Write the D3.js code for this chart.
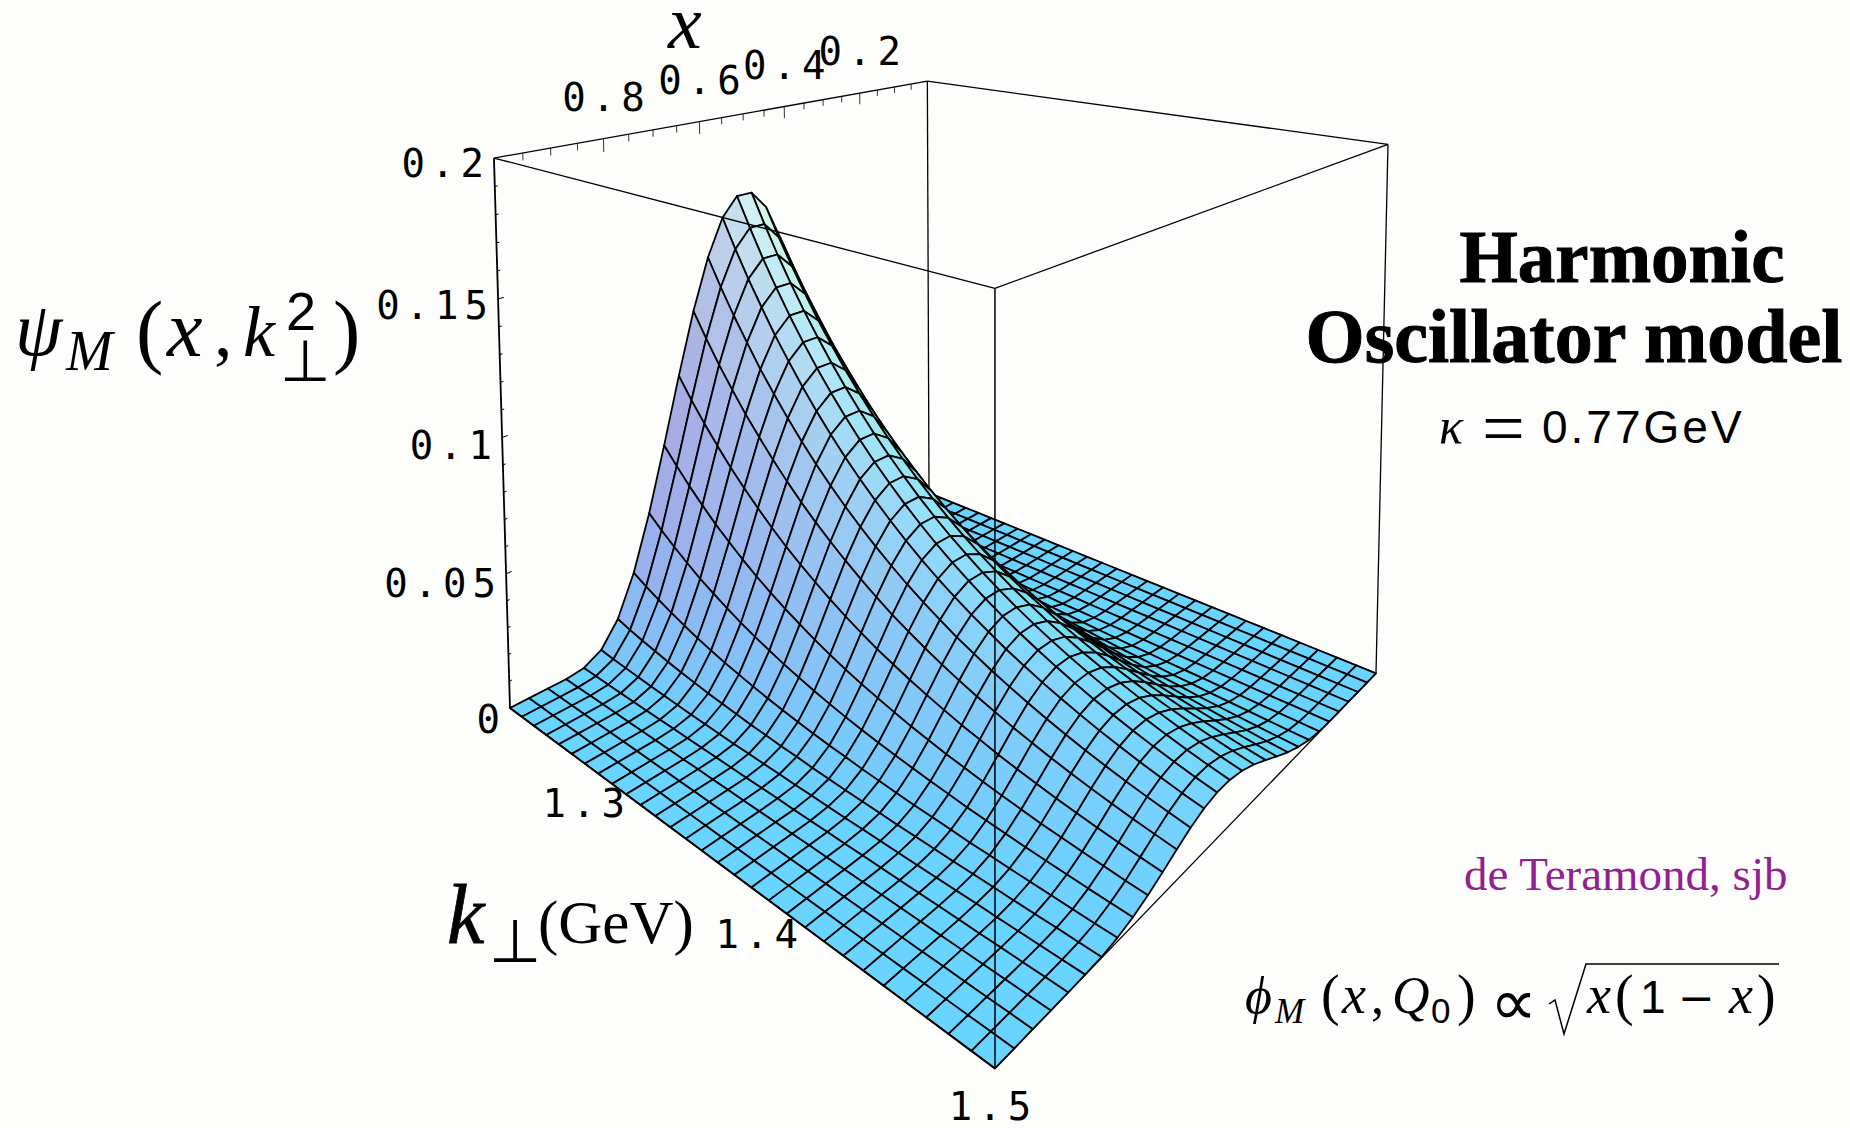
<!DOCTYPE html>
<html>
<head>
<meta charset="utf-8">
<title>Harmonic Oscillator model</title>
<script src="https://cdn.jsdelivr.net/npm/d3@7"></script>
<style>
  html, body { margin: 0; padding: 0; background: #fdfdfb; }
  text { fill: #000; }
  .tick-label { font-family: "DejaVu Sans Mono", monospace; font-size: 39px; letter-spacing: 6px; }
  .serif { font-family: "Liberation Serif", serif; }
  .sans { font-family: "Liberation Sans", sans-serif; }
  .dejavu { font-family: "DejaVu Sans", sans-serif; }
  .ital { font-family: "Liberation Serif", serif; font-style: italic; }
</style>
</head>
<body>
<div id="chart"></div>
<script>
// axis ticks
const xTicks = [0.8, 0.6, 0.4, 0.2];
const zTicks = [0, 0.05, 0.1, 0.15, 0.2];
const kTicks = [1.3, 1.4, 1.5];
const xDomain = [1, 0];
const kDomain = [1.2, 1.5];
const zDomain = [0, 0.2];

// surface heights, in units of 0.0001
// one row per k line (k grows downwards), one column per x line (x = 1 first)
const psiRows = [
  [0,0,0,0,8,44,133,286,496,743,1001,1243,1444,1591,1666,1666,1591,1444,1243,1001,743,496,286,133,44,8,0,0,0,0],
  [0,0,0,0,7,38,118,258,452,682,922,1149,1338,1476,1547,1547,1476,1338,1149,922,682,452,258,118,38,7,0,0,0,0],
  [0,0,0,0,6,34,106,234,412,625,849,1061,1239,1369,1435,1435,1369,1239,1061,849,625,412,234,106,34,6,0,0,0,0],
  [0,0,0,0,5,30,95,211,375,573,782,981,1148,1270,1332,1332,1270,1148,981,782,573,375,211,95,30,5,0,0,0,0],
  [0,0,0,0,4,26,84,190,340,523,718,904,1060,1175,1234,1234,1175,1060,904,718,523,340,190,84,26,4,0,0,0,0],
  [0,0,0,0,4,23,75,171,310,480,661,835,981,1089,1144,1144,1089,981,835,661,480,310,171,75,23,4,0,0,0,0],
  [0,0,0,0,3,20,67,154,282,438,607,769,906,1007,1059,1059,1007,906,769,607,438,282,154,67,20,3,0,0,0,0],
  [0,0,0,0,3,17,59,138,255,400,557,708,836,931,980,980,931,836,708,557,400,255,138,59,17,3,0,0,0,0],
  [0,0,0,0,2,15,53,125,232,365,510,651,771,860,906,906,860,771,651,510,365,232,125,53,15,2,0,0,0,0],
  [0,0,0,0,2,13,47,112,210,333,468,599,711,794,837,837,794,711,599,468,333,210,112,47,13,2,0,0,0,0],
  [0,0,0,0,2,11,41,100,190,304,429,551,655,733,773,773,733,655,551,429,304,190,100,41,11,2,0,0,0,0],
  [0,0,0,0,1,10,37,90,172,276,392,506,603,676,714,714,676,603,506,392,276,172,90,37,10,1,0,0,0,0],
  [0,0,0,0,1,9,32,80,155,251,358,464,555,623,658,658,623,555,464,358,251,155,80,32,9,1,0,0,0,0],
  [0,0,0,0,1,8,29,72,140,228,327,425,510,573,606,606,573,510,425,327,228,140,72,29,8,1,0,0,0,0],
  [0,0,0,0,1,6,25,64,126,207,298,389,468,527,558,558,527,468,389,298,207,126,64,25,6,1,0,0,0,0],
  [0,0,0,0,0,6,22,58,114,189,273,357,430,485,514,514,485,430,357,273,189,114,58,22,6,0,0,0,0,0],
  [0,0,0,0,0,5,19,51,103,171,249,327,395,446,473,473,446,395,327,249,171,103,51,19,5,0,0,0,0,0],
  [0,0,0,0,0,4,17,46,93,155,227,299,362,410,435,435,410,362,299,227,155,93,46,17,4,0,0,0,0,0],
  [0,0,0,0,0,4,15,41,84,141,207,274,333,377,400,400,377,333,274,207,141,84,41,15,4,0,0,0,0,0],
  [0,0,0,0,0,3,13,36,75,127,188,250,304,345,367,367,345,304,250,188,127,75,36,13,3,0,0,0,0,0],
  [0,0,0,0,0,3,12,33,68,116,172,229,279,317,337,337,317,279,229,172,116,68,33,12,3,0,0,0,0,0],
  [0,0,0,0,0,2,10,29,60,104,155,208,255,290,309,309,290,255,208,155,104,60,29,10,2,0,0,0,0,0],
  [0,0,0,0,0,2,9,25,54,94,141,190,233,266,283,283,266,233,190,141,94,54,25,9,2,0,0,0,0,0],
  [0,0,0,0,0,2,8,23,49,85,128,173,213,243,259,259,243,213,173,128,85,49,23,8,2,0,0,0,0,0],
  [0,0,0,0,0,2,7,20,43,76,116,157,194,222,237,237,222,194,157,116,76,43,20,7,2,0,0,0,0,0],
  [0,0,0,0,0,1,6,18,39,69,105,143,177,203,217,217,203,177,143,105,69,39,18,6,1,0,0,0,0,0],
  [0,0,0,0,0,1,5,16,35,62,95,130,161,185,198,198,185,161,130,95,62,35,16,5,1,0,0,0,0,0],
  [0,0,0,0,0,1,5,14,31,56,86,118,147,169,181,181,169,147,118,86,56,31,14,5,1,0,0,0,0,0],
  [0,0,0,0,0,1,4,12,28,50,78,107,134,154,165,165,154,134,107,78,50,28,12,4,1,0,0,0,0,0],
  [0,0,0,0,0,1,3,11,25,45,70,97,122,141,151,151,141,122,97,70,45,25,11,3,1,0,0,0,0,0]
];

const width = 1850;
const height = 1128;

const svg = d3
  .select("#chart")
  .append("svg")
  .attr("width", width)
  .attr("height", height)
  .style("display", "block");

// scales onto the unit box: a runs along the x axis, b along k, c up
const aScale = d3.scaleLinear().domain(xDomain).range([0, 1]);
const bScale = d3.scaleLinear().domain(kDomain).range([0, 1]);
const cScale = d3.scaleLinear().domain(zDomain).range([0, 1]);
const nCols = psiRows[0].length;
const nRows = psiRows.length;
const colScale = d3.scaleLinear().domain([0, nCols - 1]).range(xDomain);
const rowScale = d3.scaleLinear().domain([0, nRows - 1]).range(kDomain);

// perspective camera, fitted to the box in the picture
function depth(a, b, c) {
  return 1 + 0.3411 * a - 0.3004 * b - 0.0319 * c;
}
function project(x, k, z) {
  const a = aScale(x), b = bScale(k), c = cScale(z);
  const w = depth(a, b, c);
  return [
    (510 + 735.9 * a + 186.1 * b - 31.8 * c) / w,
    (708 - 46.8 * a + 39.5 * b - 555 * c) / w
  ];
}

const line = d3.line();

function edge(g, p, q, sw) {
  g.append("path")
    .attr("d", line([project(...p), project(...q)]))
    .attr("fill", "none")
    .attr("stroke", "#000")
    .attr("stroke-width", sw || 1.3);
}

const [x0, x1] = xDomain;
const [k0, k1] = kDomain;
const [z0, z1] = zDomain;

// BACK OF THE BOX //
const back = svg.append("g");
edge(back, [x1, k0, z1], [x1, k0, z0]);
edge(back, [x0, k0, z1], [x1, k0, z1]);
edge(back, [x1, k0, z1], [x1, k1, z1]);
edge(back, [x0, k0, z0], [x1, k0, z0]);
edge(back, [x1, k0, z0], [x1, k1, z0]);

// x ticks hang from the top edge
d3.range(0.05, 0.99, 0.05).forEach((t) => {
  const major = Math.abs(t * 5 - Math.round(t * 5)) < 1e-6;
  edge(back, [t, k0, z1], [t, k0, z1 - (major ? 0.005 : 0.0027)], 0.8);
});

// SURFACE //
const cells = [];
for (let j = 0; j < nRows - 1; j++) {
  for (let i = 0; i < nCols - 1; i++) {
    const h = [psiRows[j][i], psiRows[j][i + 1], psiRows[j + 1][i + 1], psiRows[j + 1][i]].map((v) => v / 10000);
    const corners = [
      [colScale(i), rowScale(j), h[0]],
      [colScale(i + 1), rowScale(j), h[1]],
      [colScale(i + 1), rowScale(j + 1), h[2]],
      [colScale(i), rowScale(j + 1), h[3]]
    ];
    // slopes in box units, the box is 0.4 high
    const sa = 0.4 * (nCols - 1) * (cScale(h[1] + h[2]) - cScale(h[0] + h[3])) / 2;
    const sb = 0.4 * (nRows - 1) * (cScale(h[2] + h[3]) - cScale(h[0] + h[1])) / 2;
    const far = d3.mean(corners, (d) => depth(aScale(d[0]), bScale(d[1]), cScale(d[2])));
    cells.push({ corners, sa, sb, far });
  }
}
cells.sort((p, q) => q.far - p.far);

function shade(d) {
  const up = Math.max(d.sa, 0);
  const down = Math.max(-d.sa, 0);
  const s = Math.abs(d.sb);
  return d3.rgb(
    104 + 150 * s + up * (30 - 70 * s) - 60 * down * Math.max(0, 1 - 2 * s),
    212 + 40 * s - 38 * up + 20 * down,
    Math.min(255, 256 - 18 * s - 14 * up - 30 * down)
  ).formatHex();
}

svg
  .append("g")
  .selectAll("path")
  .data(cells)
  .enter()
  .append("path")
  .attr("d", (d) => line(d.corners.map((p) => project(...p))) + "Z")
  .attr("fill", shade)
  .attr("stroke", "#000")
  .attr("stroke-width", 1.8)
  .attr("stroke-linejoin", "round");

// FRONT OF THE BOX //
const front = svg.append("g");
edge(front, [x0, k0, z1], [x0, k1, z1]);
edge(front, [x0, k1, z1], [x1, k1, z1]);
edge(front, [x0, k1, z1], [x0, k1, z0], 1.5);
edge(front, [x1, k1, z1], [x1, k1, z0]);
edge(front, [x0, k1, z0], [x1, k1, z0]);
edge(front, [x0, k0, z0], [x0, k1, z0], 1.8);
edge(front, [x0, k0, z1], [x0, k0, z0], 1.8);

// z ticks stick out along the x direction
d3.range(0.01, 0.2, 0.01).forEach((t) => {
  const major = Math.abs(t * 20 - Math.round(t * 20)) < 1e-6;
  edge(front, [x0, k0, t], [x0 - (major ? 0.01 : 0.005), k0, t], 1);
});

// TICK LABELS //
const labels = svg.append("g");

xTicks.forEach((t) => {
  const [px, py] = project(t, k0, z1);
  labels.append("text")
    .attr("class", "tick-label")
    .attr("x", px + 3)
    .attr("y", py - 28)
    .attr("text-anchor", "middle")
    .text(t);
});

zTicks.forEach((t) => {
  const [px, py] = project(x0, k0, t);
  labels.append("text")
    .attr("class", "tick-label")
    .attr("x", px - 4)
    .attr("y", py + 25 - 30 * t)
    .attr("text-anchor", "end")
    .text(t);
});

const kOffsets = [[-49, 16], [-33, 30], [-2, 52]];
kTicks.forEach((t, i) => {
  const [px, py] = project(x0, t, z0);
  labels.append("text")
    .attr("class", "tick-label")
    .attr("x", px + kOffsets[i][0])
    .attr("y", py + kOffsets[i][1])
    .attr("text-anchor", "middle")
    .text(t);
});

// TITLES AND FORMULAS //
const notes = svg.append("g");

function note(cls, size, x, y, str, extra) {
  const t = notes.append("text")
    .attr("class", cls)
    .attr("x", x)
    .attr("y", y)
    .style("font-size", size + "px")
    .text(str);
  if (extra) extra(t);
  return t;
}

const heavy = (w) => (t) => t.style("stroke", "#000").style("stroke-width", w);

// psi_M(x, k_perp^2)
note("ital", 76, 15, 355, "ψ");
note("ital", 56, 66, 370, "M");
note("serif", 82, 136, 358, "(");
note("ital", 80, 167, 356, "x");
note("serif", 74, 214, 356, ",");
note("ital", 72, 243, 356, "k");
note("sans", 54, 286, 330, "2");
note("dejavu", 58, 280, 381, "⊥");
note("serif", 82, 333, 358, ")");

// x axis title
note("ital", 76, 668, 48, "x");

// k_perp (GeV)
note("ital", 84, 447, 943, "k", heavy(0.8));
note("dejavu", 60, 489, 962, "⊥");
note("serif", 61, 538, 943, "(GeV)");

// model name
note("serif", 75, 1622, 282, "Harmonic", (t) => t.attr("text-anchor", "middle").style("font-weight", "bold").style("stroke", "#000").style("stroke-width", 1));
note("serif", 76, 1574, 362, "Oscillator model", (t) => t.attr("text-anchor", "middle").style("font-weight", "bold").style("stroke", "#000").style("stroke-width", 1));

// kappa = 0.77 GeV
note("ital", 50, 1439, 443, "κ");
note("serif", 76, 1482, 454, "=");
note("sans", 46, 1542, 443, "0.77GeV", (t) => t.style("letter-spacing", "3px"));

note("serif", 47, 1464, 890, "de Teramond, sjb", (t) => t.style("fill", "#932092"));

// phi_M(x, Q_0) prop sqrt(x(1 - x))
note("ital", 52, 1245, 1013, "ϕ");
note("ital", 35, 1275, 1023, "M");
note("serif", 56, 1321, 1014, "(");
note("ital", 54, 1342, 1013, "x");
note("serif", 52, 1371, 1013, ",");
note("ital", 52, 1392, 1013, "Q");
note("sans", 35, 1431, 1023, "0");
note("serif", 56, 1457, 1014, ")");
note("dejavu", 66, 1490, 1025, "∝");
note("ital", 54, 1587, 1013, "x");
note("serif", 56, 1615, 1014, "(");
note("sans", 46, 1640, 1013, "1");
note("dejavu", 44, 1678, 1013, "−");
note("ital", 54, 1729, 1013, "x");
note("serif", 56, 1757, 1014, ")");
notes.append("path")
  .attr("d", "M1549,1004L1555,1000L1564,1034L1586,964L1779,964")
  .attr("fill", "none")
  .attr("stroke", "#000")
  .attr("stroke-width", 1.5);
</script>
</body>
</html>
